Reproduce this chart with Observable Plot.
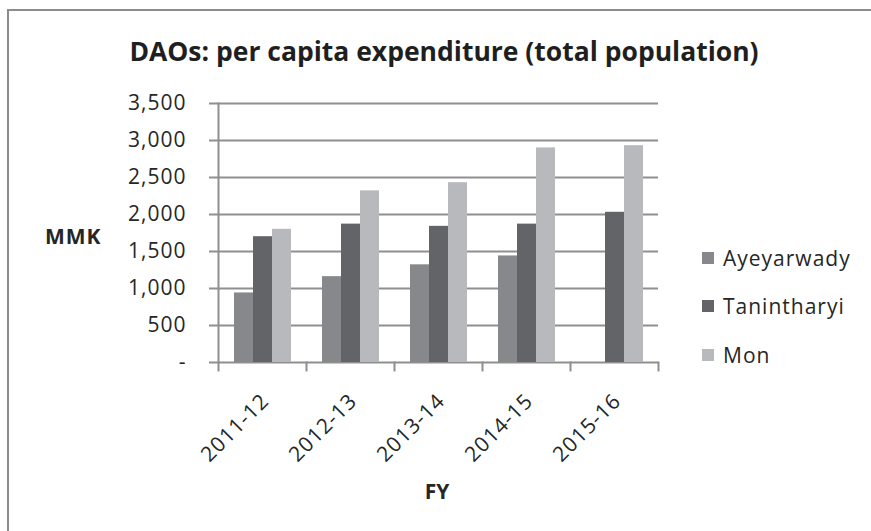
<!DOCTYPE html>
<html><head><meta charset="utf-8">
<script src="https://cdn.jsdelivr.net/npm/d3@7"></script>
<script src="https://cdn.jsdelivr.net/npm/@observablehq/plot@0.6"></script>
<style>
html,body{margin:0;background:#fff;overflow:hidden;}
#wrap{position:relative;width:871px;height:531px;overflow:hidden;font-family:"Open Sans",sans-serif;color:#262626;background:#fff;}
.bline{position:absolute;background:#8c8c8c;pointer-events:none;}
#title{height:80px;box-sizing:border-box;padding-top:36px;padding-left:17px;text-align:center;font-weight:700;font-size:26.5px;line-height:30px;white-space:nowrap;color:#1f1f1f;}
#chart svg{display:block;}
.lab{position:absolute;font-weight:700;font-size:21px;line-height:24px;white-space:nowrap;}
#legend{position:absolute;left:702px;top:234px;}
#legend .row{display:flex;align-items:center;height:48.3px;font-size:21px;letter-spacing:1px;}
#legend .sw{width:12px;height:12px;margin-right:9px;}
</style></head>
<body>
<div id="wrap">
  <div id="title">DAOs: per capita expenditure (total population)</div>
  <div id="chart"></div>
  <div class="lab" id="ylab" style="left:45px;top:224px;letter-spacing:1px;">MMK</div>
  <div class="lab" id="xlab" style="left:3px;width:868px;text-align:center;top:479px;">FY</div>
  <div id="legend"></div>
  <div class="bline" style="left:7px;top:9px;width:864px;height:2px;"></div>
  <div class="bline" style="left:7px;top:9px;width:2px;height:522px;"></div>
</div>
<script>
const categories = ["2011-12", "2012-13", "2013-14", "2014-15", "2015-16"];
const seriesNames = ["Ayeyarwady", "Tanintharyi", "Mon"];
const ayeyarwady = [940, 1160, 1320, 1440, null];
const tanintharyi = [1700, 1870, 1840, 1870, 2030];
const mon = [1800, 2320, 2430, 2900, 2930];
const yTicks = [0, 500, 1000, 1500, 2000, 2500, 3000, 3500];
const colors = ["#87888c", "#636467", "#b8b9bc"];

const seriesValues = [ayeyarwady, tanintharyi, mon];
const rows = [];
categories.forEach((c, i) => {
  seriesValues.forEach((arr, j) => {
    if (arr[i] != null) rows.push({fy: c, series: seriesNames[j], value: arr[i]});
  });
});

const W = 871, H = 451, mT = 23, mB = 169, mL = 217, mR = 213;
const frameH = H - mT - mB;
const grid = "#8f8f8f";

const chart = Plot.plot({
  width: W, height: H,
  marginTop: mT, marginBottom: mB, marginLeft: mL, marginRight: mR,
  style: {fontFamily: "Open Sans", fontSize: "21px", color: "#262626", background: "white", letterSpacing: "1px"},
  fx: {domain: categories, padding: 0},
  x: {domain: seriesNames, paddingInner: 0, paddingOuter: 0.78, axis: null},
  y: {domain: [0, 3500]},
  color: {domain: seriesNames, range: colors},
  marks: [
    Plot.gridY(yTicks, {stroke: grid, strokeOpacity: 1, strokeWidth: 2}),
    Plot.barY(rows, {fx: "fy", x: "series", y: "value", fill: "series"}),
    Plot.frame({anchor: "left", facetAnchor: "left", stroke: grid, strokeWidth: 2}),
    Plot.frame({anchor: "left", insetTop: frameH, insetBottom: -8, stroke: grid, strokeWidth: 2}),
    Plot.frame({anchor: "right", facetAnchor: "right", insetTop: frameH, insetBottom: -8, stroke: grid, strokeWidth: 2}),
    Plot.axisY(yTicks, {tickSize: 9, tickPadding: 23, stroke: grid, strokeWidth: 2,
      tickFormat: d => d === 0 ? "-" : d3.format(",")(d), label: null, fontSize: 21}),
    Plot.axisFx({anchor: "bottom", tickSize: 0, tickRotate: -45, tickPadding: 35, dx: 3, label: null, fontSize: 21})
  ]
});
document.getElementById("chart").appendChild(chart);

const legend = document.getElementById("legend");
seriesNames.forEach((s, i) => {
  const row = document.createElement("div");
  row.className = "row";
  row.innerHTML = `<span class="sw" style="background:${colors[i]}"></span><span>${s}</span>`;
  legend.appendChild(row);
});
</script>
</body></html>
